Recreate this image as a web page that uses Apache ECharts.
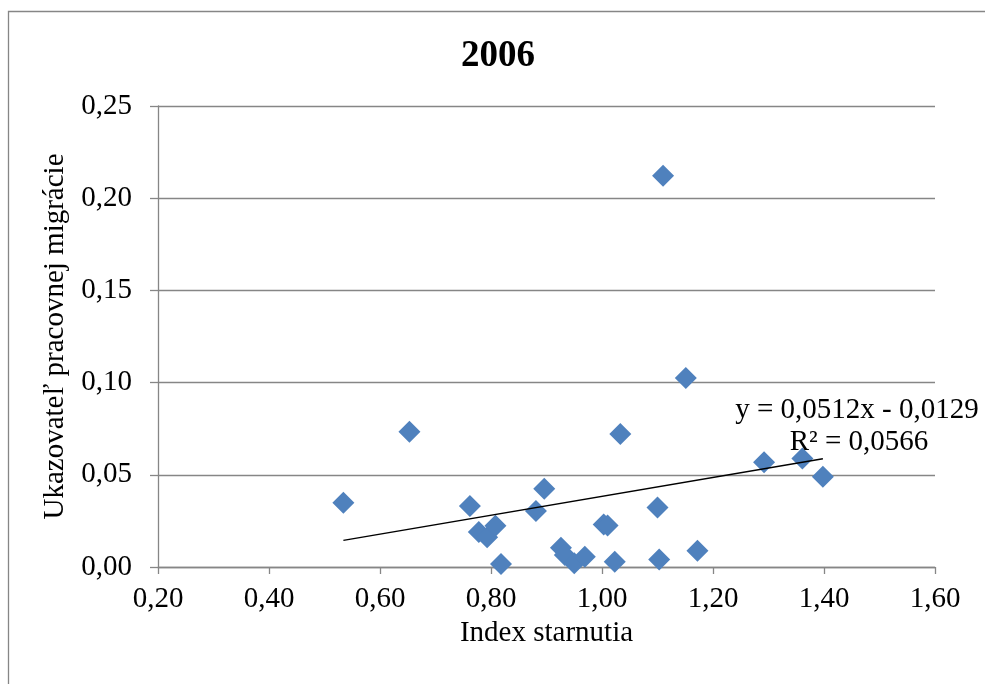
<!DOCTYPE html>
<html>
<head>
<meta charset="utf-8">
<script src="https://cdn.jsdelivr.net/npm/echarts@6/dist/echarts.min.js"></script>
<style>
html,body{margin:0;padding:0;background:#fff;}
#c{width:985px;height:684px;}
</style>
</head>
<body>
<div id="c"></div>
<script>
var titleText = "2006";
var xAxisName = "Index starnutia";
var yAxisName = "Ukazovateľ pracovnej migrácie";
var xValues = [0.534,0.653,0.762,0.778,0.793,0.808,0.818,0.881,0.896,0.926,0.933,0.950,0.969,1.003,1.010,1.023,1.033,1.100,1.103,1.110,1.151,1.172,1.292,1.361,1.398];
var yValues = [0.0349,0.0734,0.0331,0.0190,0.0162,0.0224,0.0016,0.0304,0.0425,0.0104,0.0065,0.0020,0.0056,0.0230,0.0225,0.0028,0.0721,0.0322,0.0040,0.2122,0.1025,0.0088,0.0568,0.0589,0.0490];
var trendSlope = 0.0512;
var trendIntercept = -0.0129;
var trendLabel = ["y = 0,0512x - 0,0129", "R² = 0,0566"];
var xTicks = {min:0.2, max:1.6, interval:0.2};
var yTicks = {min:0, max:0.25, interval:0.05};

var pts = xValues.map(function(x,i){return [x, yValues[i]];});
var xMin = Math.min.apply(null, xValues), xMax = Math.max.apply(null, xValues);
var trend = [[xMin, trendSlope*xMin+trendIntercept],[xMax, trendSlope*xMax+trendIntercept]];
function fmt(v,d){return v.toFixed(d).replace('.',',');}
var font = "'Liberation Serif','Times New Roman',serif";
var gray = '#868686';
var fs = 29;

var chart = echarts.init(document.getElementById('c'));
chart.setOption({
  animation:false,
  backgroundColor:'#fff',
  title:{text:titleText,left:456,top:33,textStyle:{fontFamily:font,fontSize:37,fontWeight:'bold',color:'#000'}},
  grid:{left:158,right:50,top:106,bottom:117,containLabel:false},
  xAxis:{type:'value',min:xTicks.min,max:xTicks.max,interval:xTicks.interval,
    name:xAxisName,nameLocation:'middle',nameGap:50,
    nameTextStyle:{fontFamily:font,fontSize:fs,color:'#000'},
    axisLine:{show:true,lineStyle:{color:gray,width:1.3}},
    axisTick:{show:true,length:7,lineStyle:{color:gray,width:1.3}},
    axisLabel:{fontFamily:font,fontSize:fs,color:'#000',margin:18,formatter:function(v){return fmt(v,2);}},
    splitLine:{show:false}},
  yAxis:{type:'value',min:yTicks.min,max:yTicks.max,interval:yTicks.interval,
    name:yAxisName,nameLocation:'middle',nameGap:80,
    nameTextStyle:{fontFamily:font,fontSize:fs,color:'#000'},
    axisLine:{show:true,lineStyle:{color:gray,width:1.3}},
    axisTick:{show:true,length:8,lineStyle:{color:gray,width:1.3}},
    axisLabel:{fontFamily:font,fontSize:fs,color:'#000',margin:26,formatter:function(v){return fmt(v,2);}},
    splitLine:{show:true,lineStyle:{color:gray,width:1.3}}},
  graphic:[
    {type:'rect',left:6,top:9,z:-10,shape:{x:0,y:0,width:1000,height:700},style:{fill:'none',stroke:gray,lineWidth:1.3}},
    {type:'text',x:857,y:410,z:100,style:{text:trendLabel[0],textAlign:'center',textVerticalAlign:'middle',fontFamily:font,fontSize:fs,fill:'#000'}},
    {type:'text',x:859,y:442,z:100,style:{text:trendLabel[1],textAlign:'center',textVerticalAlign:'middle',fontFamily:font,fontSize:fs,fill:'#000'}}
  ],
  series:[
    {type:'scatter',data:pts,symbol:'diamond',symbolSize:22,itemStyle:{color:'#4F81BD',opacity:1},z:2},
    {type:'line',data:trend,symbol:'none',lineStyle:{color:'#000',width:1.5},z:3,silent:true}
  ]
});
</script>
</body>
</html>
